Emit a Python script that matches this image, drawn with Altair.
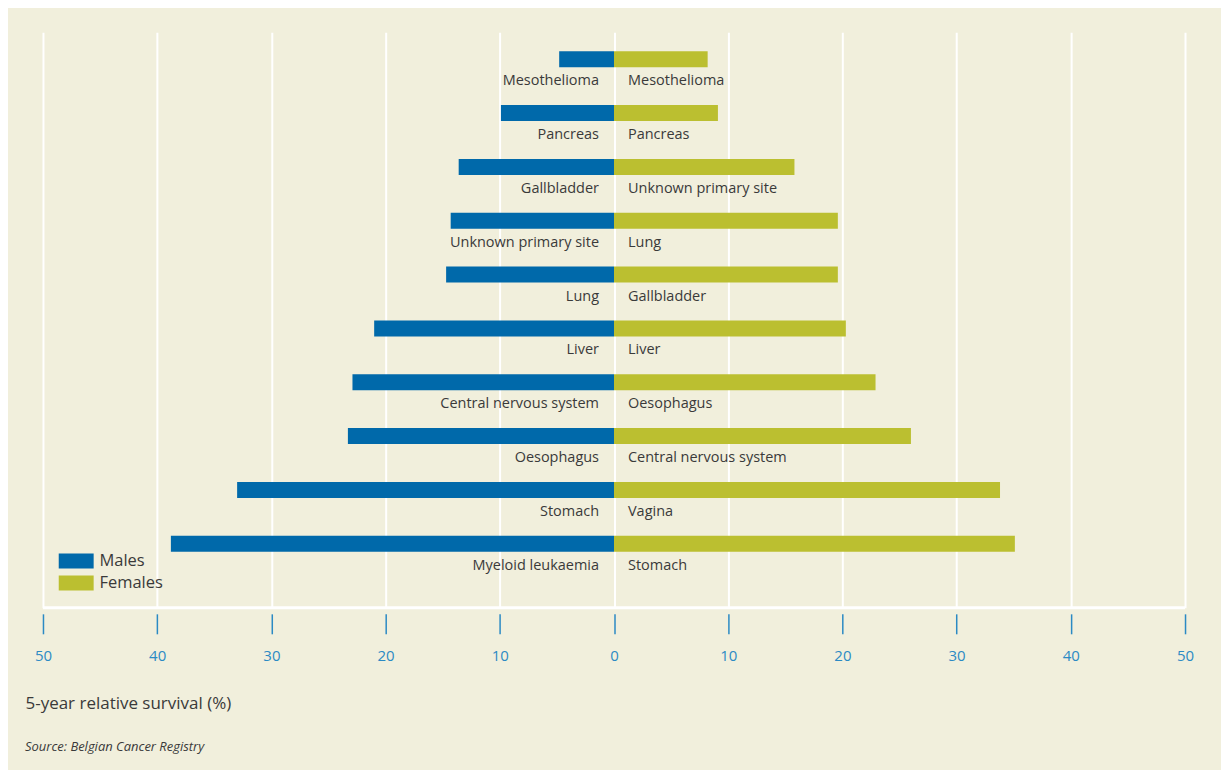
import altair as alt
import pandas as pd

# ---- data ----
male_sites = ["Mesothelioma", "Pancreas", "Gallbladder", "Unknown primary site", "Lung",
              "Liver", "Central nervous system", "Oesophagus", "Stomach", "Myeloid leukaemia"]
male_values = [4.8, 9.9, 13.6, 14.3, 14.7, 21.0, 22.9, 23.3, 33.0, 38.8]
female_sites = ["Mesothelioma", "Pancreas", "Unknown primary site", "Lung", "Gallbladder",
                "Liver", "Oesophagus", "Central nervous system", "Vagina", "Stomach"]
female_values = [8.2, 9.1, 15.8, 19.6, 19.6, 20.3, 22.9, 26.0, 33.8, 35.1]
tick_values = [-50, -40, -30, -20, -10, 0, 10, 20, 30, 40, 50]
sexes = ["Males", "Females"]
colors = ["#0069aa", "#bbbf30"]

rows = []
for i, (s, v) in enumerate(zip(male_sites, male_values)):
    rows.append({"rank": i, "site": s, "sex": "Males", "value": -v, "base": 0})
for i, (s, v) in enumerate(zip(female_sites, female_values)):
    rows.append({"rank": i, "site": s, "sex": "Females", "value": v, "base": 0})
df = pd.DataFrame(rows)

W, H = 1143, 576

x_scale = alt.Scale(domain=[-50, 50], nice=False, zero=False, padding=0)
y_scale = alt.Scale(domain=[-0.5, 10.19], nice=False, zero=False, reverse=True, padding=0)

x_axis = alt.Axis(
    values=tick_values, labelExpr="abs(datum.value)", domain=False,
    grid=True, gridColor="white", gridWidth=2, gridOpacity=1,
    ticks=True, tickColor="#2b8ac4", tickSize=20, tickWidth=1.5, offset=6,
    labelColor="#2b8ac4", labelFontSize=15, labelFont="Open Sans", labelPadding=15,
    labelFlush=False, labelOverlap=False,
    title="5-year relative survival (%)", titleFont="Open Sans", titleFontSize=17,
    titleFontWeight="normal", titleColor="#3a3a3a", titleAlign="left",
    titleAnchor="start", titleX=-18, titleY=90, titleBaseline="middle",
)

bars = alt.Chart(df).mark_bar(orient="horizontal", size=16).encode(
    x=alt.X("value:Q", scale=x_scale, axis=x_axis),
    x2="base:Q",
    y=alt.Y("rank:Q", scale=y_scale, axis=None),
    color=alt.Color("sex:N", scale=alt.Scale(domain=sexes, range=colors),
                    legend=alt.Legend(
                        title=None, orient="none", legendX=25, legendY=521,
                        symbolType="M-2.33,-1H2.33V1H-2.33Z", symbolSize=225,
                        symbolStrokeWidth=0, symbolOpacity=1,
                        labelFont="Open Sans", labelFontSize=16.5, labelColor="#3a3a3a",
                        labelOffset=15, rowPadding=5, padding=0)),
)

male_labels = alt.Chart(df[df.sex == "Males"]).mark_text(
    align="right", baseline="middle", dx=-15, dy=22, font="Open Sans",
    fontSize=14.5, color="#3a3a3a"
).encode(x=alt.X("base:Q", scale=x_scale), y=alt.Y("rank:Q", scale=y_scale), text="site:N")

female_labels = alt.Chart(df[df.sex == "Females"]).mark_text(
    align="left", baseline="middle", dx=14, dy=22, font="Open Sans",
    fontSize=14.5, color="#3a3a3a"
).encode(x=alt.X("base:Q", scale=x_scale), y=alt.Y("rank:Q", scale=y_scale), text="site:N")

baseline_rule = alt.Chart(pd.DataFrame({"v": [0]})).mark_rule(color="white", strokeWidth=3).encode(
    x=alt.value(0), x2=alt.value(W), y=alt.value(H)
)

source = alt.Chart(pd.DataFrame({"t": ["Source: Belgian Cancer Registry"]})).mark_text(
    align="left", baseline="middle", font="Open Sans", fontSize=13, fontStyle="italic",
    color="#3a3a3a"
).encode(x=alt.value(-18), y=alt.value(715), text="t:N")

chart = alt.layer(baseline_rule, bars, male_labels, female_labels, source).properties(
    width=W, height=H,
    padding={"left": 35, "top": 24, "right": 36, "bottom": 162},
    autosize=alt.AutoSizeParams(type="none"),
    background="#f1efdc",
).configure_view(stroke=None)

chart.save("out.html", embed_options={"renderer": "svg", "actions": False})
